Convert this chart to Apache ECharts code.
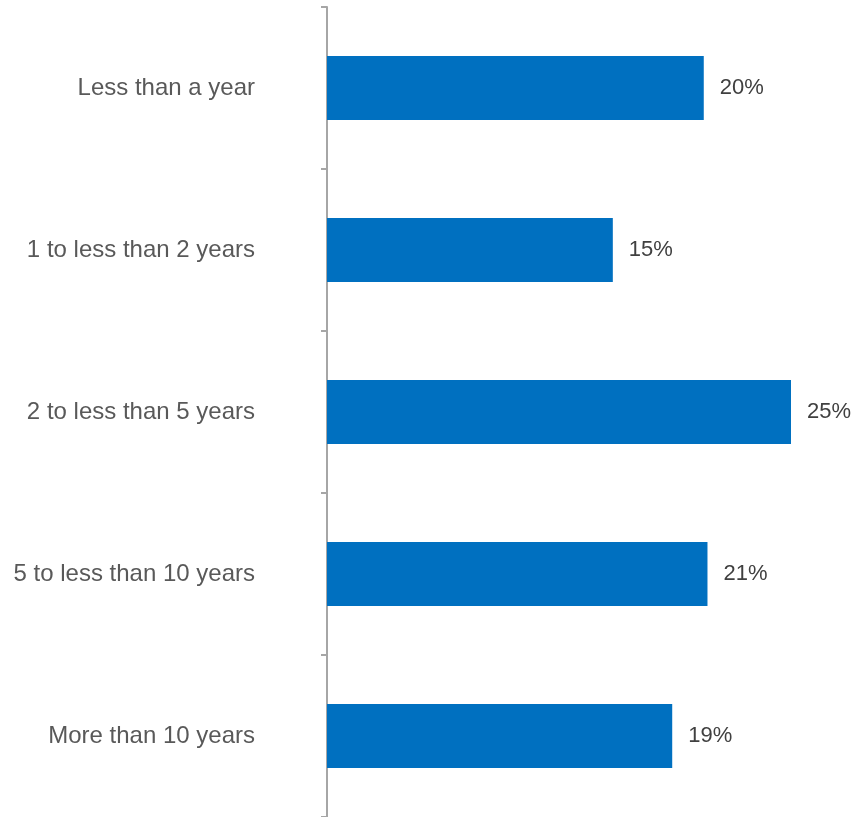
<!DOCTYPE html>
<html>
<head>
<meta charset="utf-8">
<script src="https://cdn.jsdelivr.net/npm/echarts@6/dist/echarts.min.js"></script>
<style>html,body{margin:0;padding:0;background:#fff;}#c{width:856px;height:817px;}</style>
</head>
<body>
<div id="c"></div>
<script>
const categories = ["Less than a year", "1 to less than 2 years", "2 to less than 5 years", "5 to less than 10 years", "More than 10 years"];
const values = [20.3, 15.4, 25.0, 20.5, 18.6];

const chart = echarts.init(document.getElementById('c'), null, {renderer: 'canvas'});
chart.setOption({
  animation: false,
  grid: {left: 327, right: 65, top: 7, bottom: 0, containLabel: false},
  xAxis: {
    type: 'value', min: 0, max: 25, show: false
  },
  yAxis: {
    type: 'category', data: categories, inverse: true,
    axisLine: {show: true, lineStyle: {color: '#a6a6a6', width: 2}},
    axisTick: {show: true, length: 6, lineStyle: {color: '#a6a6a6', width: 2}},
    axisLabel: {color: '#595959', fontSize: 24, fontFamily: 'Arial', margin: 72, padding: [10, 0, 0, 0]}
  },
  series: [{
    type: 'bar', data: values, barWidth: 64,
    itemStyle: {color: '#0070C0'},
    label: {
      show: true, position: 'right', distance: 16,
      color: '#404040', fontSize: 22, fontFamily: 'Arial',
      padding: [8, 0, 0, 0],
      formatter: p => Math.round(p.value) + '%'
    }
  }]
});
</script>
</body>
</html>
